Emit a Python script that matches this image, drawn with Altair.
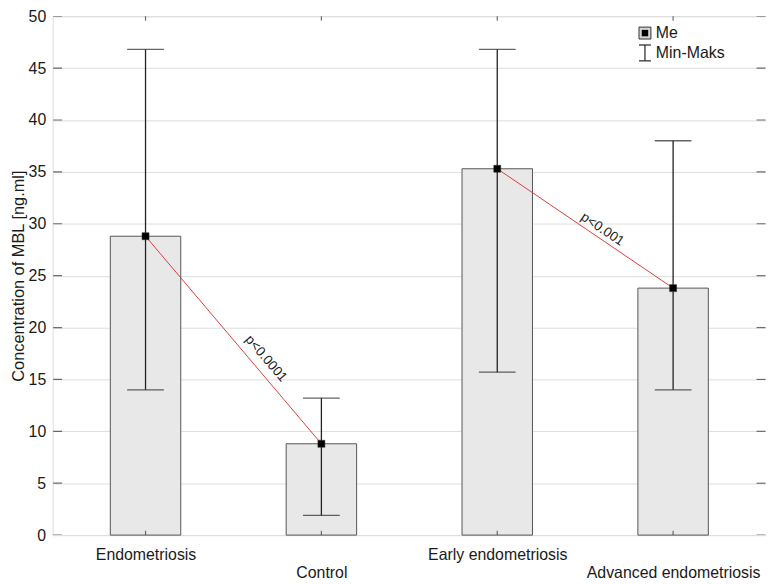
import math
import altair as alt
import pandas as pd

groups = ["Endometriosis", "Control", "Early endometriosis", "Advanced endometriosis"]
medians = [28.8, 8.8, 35.3, 23.8]
mins = [14.0, 1.9, 15.7, 14.0]
maxs = [46.8, 13.2, 46.8, 38.0]
pair_from = [0, 2]
pair_to = [1, 3]
pair_labels = ["p<0.0001", "p<0.001"]
y_ticks = list(range(0, 55, 5))

W, H = 719, 523
XDOM = [-0.5, 3.5]
YDOM = [0, 50]
FONT = "Liberation Sans"
FS = 16

df = pd.DataFrame({"pos": list(range(4)), "group": groups, "me": medians,
                   "lo": mins, "hi": maxs})

xs = alt.Scale(domain=XDOM, nice=False, zero=False)
ys = alt.Scale(domain=YDOM, nice=False)

label_map = "{" + ",".join(f"'{i}':'{g}'" for i, g in enumerate(groups)) + "}"

x_axis = alt.Axis(values=[0, 1, 2, 3], labelExpr=f"{label_map}[datum.value]",
                  domain=False, ticks=False, grid=False, title=None,
                  labelFont=FONT, labelFontSize=FS, labelColor="#1a1a1a",
                  labelBaseline="top", labelFlush=False, labelOverlap=False,
                  labelPadding={"condition": {"test": "datum.value == 1 || datum.value == 3", "value": 30},
                                "value": 12})
y_axis = alt.Axis(values=y_ticks, domain=False, ticks=False, grid=True,
                  gridColor="#dedede", gridWidth=1,
                  labelFont=FONT, labelFontSize=FS, labelColor="#1a1a1a", labelPadding=7,
                  title="Concentration of MBL [ng.ml]", titleFont=FONT, titleFontSize=16.5,
                  titleFontWeight="normal", titleColor="#1a1a1a", titlePadding=2)

base = alt.Chart(df)

bars = base.mark_bar(size=71, fill="#e8e8e8", stroke="#555555", strokeWidth=1).encode(
    x=alt.X("pos:Q", scale=xs, axis=x_axis),
    y=alt.Y("me:Q", scale=ys, axis=y_axis),
    y2=alt.Y2(datum=0),
)

err = base.mark_rule(color="#222222", strokeWidth=1.3).encode(
    x=alt.X("pos:Q", scale=xs), y=alt.Y("lo:Q", scale=ys), y2="hi:Q")
cap_lo = base.mark_tick(orient="horizontal", size=37, thickness=1.3, color="#222222").encode(
    x=alt.X("pos:Q", scale=xs), y=alt.Y("lo:Q", scale=ys))
cap_hi = base.mark_tick(orient="horizontal", size=37, thickness=1.3, color="#222222").encode(
    x=alt.X("pos:Q", scale=xs), y=alt.Y("hi:Q", scale=ys))

# connecting lines between medians
line_rows = []
for k, (a, b) in enumerate(zip(pair_from, pair_to)):
    line_rows.append({"pair": k, "pos": a, "me": medians[a]})
    line_rows.append({"pair": k, "pos": b, "me": medians[b]})
lines_df = pd.DataFrame(line_rows)
lines = alt.Chart(lines_df).mark_line(color="#e03c3c", strokeWidth=1).encode(
    x=alt.X("pos:Q", scale=xs), y=alt.Y("me:Q", scale=ys), detail="pair:N")

pts = base.mark_square(size=50, color="#000000", opacity=1, stroke="#333333", strokeWidth=0.5).encode(
    x=alt.X("pos:Q", scale=xs), y=alt.Y("me:Q", scale=ys))

# p-value labels along the lines
px_x = W / (XDOM[1] - XDOM[0])
px_y = H / (YDOM[1] - YDOM[0])
frac = [0.63, 0.57]
perp = [-13, -9]
ptexts = []
for k, (a, b) in enumerate(zip(pair_from, pair_to)):
    ang = math.degrees(math.atan2((medians[a] - medians[b]) * px_y, (b - a) * px_x))
    tdf = pd.DataFrame({"pos": [a + frac[k] * (b - a)],
                        "me": [medians[a] + frac[k] * (medians[b] - medians[a])],
                        "t": [pair_labels[k]]})
    ptexts.append(alt.Chart(tdf).mark_text(angle=round(ang, 1), dy=perp[k], align="center",
                                            baseline="middle", font=FONT, fontSize=13.5,
                                            color="#1a1a1a").encode(
        x=alt.X("pos:Q", scale=xs), y=alt.Y("me:Q", scale=ys), text="t:N"))

# inward axis ticks
tick_y_df = pd.DataFrame({"v": y_ticks})
tick_l = alt.Chart(tick_y_df).mark_tick(orient="horizontal", size=9, thickness=1.2, color="#333333", clip=True).encode(
    x=alt.X(datum=XDOM[0], scale=xs), y=alt.Y("v:Q", scale=ys))
tick_r = alt.Chart(tick_y_df).mark_tick(orient="horizontal", size=9, thickness=1.2, color="#333333", clip=True).encode(
    x=alt.X(datum=XDOM[1], scale=xs), y=alt.Y("v:Q", scale=ys))
tick_b = base.mark_tick(orient="vertical", size=9, thickness=1.2, color="#333333", clip=True).encode(
    x=alt.X("pos:Q", scale=xs), y=alt.Y(datum=YDOM[0], scale=ys))
tick_t = base.mark_tick(orient="vertical", size=9, thickness=1.2, color="#333333", clip=True).encode(
    x=alt.X("pos:Q", scale=xs), y=alt.Y(datum=YDOM[1], scale=ys))

# legend
leg = alt.Chart(pd.DataFrame({"a": [0]}))
leg_box = leg.mark_square(size=144, fill="#d4d4d4", stroke="#333333", strokeWidth=1, opacity=1).encode(
    x=alt.value(597), y=alt.value(17))
leg_in = leg.mark_square(size=42, color="#000000", opacity=1).encode(x=alt.value(597), y=alt.value(17))
leg_me = leg.mark_text(align="left", baseline="middle", font=FONT, fontSize=FS, color="#1a1a1a").encode(
    x=alt.value(608), y=alt.value(17), text=alt.value("Me"))
leg_v = leg.mark_rule(color="#222222", strokeWidth=1.2).encode(
    x=alt.value(597), y=alt.value(29), y2=alt.value(45))
leg_c1 = leg.mark_rule(color="#222222", strokeWidth=1.2).encode(
    x=alt.value(591), x2=alt.value(603), y=alt.value(29))
leg_c2 = leg.mark_rule(color="#222222", strokeWidth=1.2).encode(
    x=alt.value(591), x2=alt.value(603), y=alt.value(45))
leg_mm = leg.mark_text(align="left", baseline="middle", font=FONT, fontSize=FS, color="#1a1a1a").encode(
    x=alt.value(608), y=alt.value(37), text=alt.value("Min-Maks"))

chart = alt.layer(
    bars, err, cap_lo, cap_hi, lines, pts, *ptexts,
    tick_l, tick_r, tick_b, tick_t,
    leg_box, leg_in, leg_me, leg_v, leg_c1, leg_c2, leg_mm,
).properties(
    width=W, height=H,
    autosize=alt.AutoSizeParams(type="none"),
    padding={"left": 45, "top": 6, "right": 0, "bottom": 46},
).configure_view(stroke="#444444", strokeWidth=1.2).configure(background="white")

chart.save("out.html", embed_options={"renderer": "svg", "actions": False})
